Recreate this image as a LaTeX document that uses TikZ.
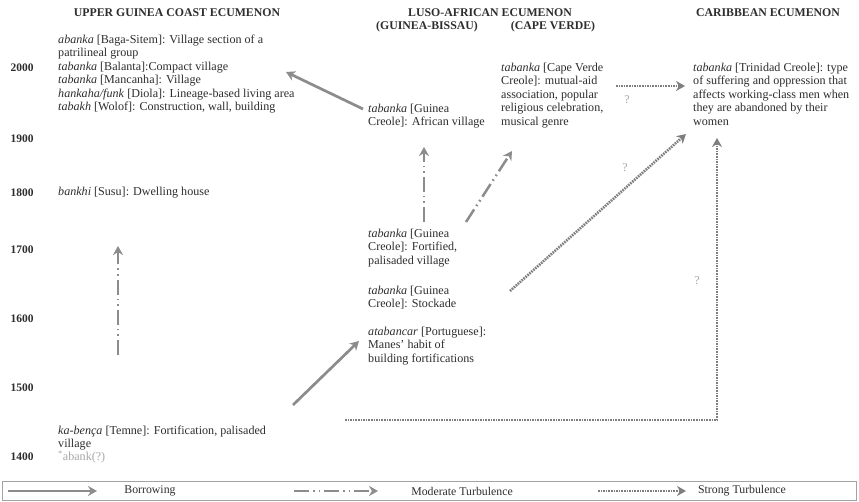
\documentclass[tikz,border=0pt]{standalone}
\usepackage{fontspec}
\setmainfont{Liberation Serif}
\usetikzlibrary{arrows.meta}
\definecolor{txtcol}{HTML}{2E2E2E}
\definecolor{arrcol}{HTML}{8C8C8C}
\definecolor{dotcol}{HTML}{7E7E7E}
\definecolor{qcol}{HTML}{A8A8A8}
\tikzset{
  txt/.style={font=\fontsize{12.1}{13.5}\selectfont, text=txtcol, align=left, inner sep=0pt, anchor=north west},
  hdr/.style={font=\fontsize{11.8}{13.5}\selectfont\bfseries, text=txtcol, inner sep=0pt},
  yr/.style={font=\fontsize{11.5}{13.5}\selectfont\bfseries, text=txtcol, inner sep=0pt},
  qm/.style={font=\fontsize{12}{13.5}\selectfont, text=qcol, inner sep=0pt},
  lg/.style={font=\fontsize{11.8}{13.5}\selectfont, text=txtcol, inner sep=0pt},
  tip/.style={-{Stealth[length=9pt,width=10pt]}},
  borrow/.style={draw=arrcol, line width=2.7pt, tip},
  moderate/.style={draw=arrcol, line width=2.5pt, dash pattern=on 15pt off 4pt on 1.6pt off 4pt on 1.6pt off 4pt, tip},
  strong/.style={draw=dotcol, line width=2.6pt, dash pattern=on 1.6pt off 1.0pt, tip},
}
\begin{document}
\begin{tikzpicture}[x=1pt,y=-1pt]
\useasboundingbox (0,0) rectangle (859,502);
\fill[white] (0,0) rectangle (859,502);

% headers
\node[hdr] (h1) at (177,13) {UPPER GUINEA COAST ECUMENON};
\node[hdr] (h2) at (490,13) {LUSO-AFRICAN ECUMENON};
\node[hdr] (h2a) at (427,27) {(GUINEA-BISSAU)};
\node[hdr] (h2b) at (553,27) {(CAPE VERDE)};
\node[hdr] (h3) at (768,13) {CARIBBEAN ECUMENON};

% years
\node[yr] (y2000) at (22,68) {2000};
\node[yr] (y1900) at (22,139) {1900};
\node[yr] (y1800) at (22,193) {1800};
\node[yr] (y1700) at (22,250) {1700};
\node[yr] (y1600) at (22,319) {1600};
\node[yr] (y1500) at (22,388) {1500};
\node[yr] (y1400) at (22,457) {1400};

% upper guinea coast
\node[txt] (ugc) at (58,34.5) {\textit{abanka} [Baga-Sitem]: Village section of a\\patrilineal group\\\textit{tabanka} [Balanta]:Compact village\\\textit{tabanka} [Mancanha]: Village\\\textit{hankaha/funk} [Diola]: Lineage-based living area\\\textit{tabakh} [Wolof]: Construction, wall, building};
\node[txt] (susu) at (58,186.5) {\textit{bankhi} [Susu]: Dwelling house};
\node[txt] (temne) at (58,425.5) {\textit{ka-bença} [Temne]: Fortification, palisaded\\village};
\node[txt, text=qcol] (abank) at (58,450.5) {\textsuperscript{*}abank(?)};

% guinea-bissau
\node[txt] (gb1) at (368,103.5) {\textit{tabanka} [Guinea\\Creole]: African village};
\node[txt] (gb2) at (368,228.5) {\textit{tabanka} [Guinea\\Creole]: Fortified,\\palisaded village};
\node[txt] (gb3) at (368,285.5) {\textit{tabanka} [Guinea\\Creole]: Stockade};
\node[txt] (gb4) at (368,326.5) {\textit{atabancar} [Portuguese]:\\Manes’ habit of\\building fortifications};

% cape verde
\node[txt] (cv) at (501,62.5) {\textit{tabanka} [Cape Verde\\Creole]: mutual-aid\\association, popular\\religious celebration,\\musical genre};

% caribbean
\node[txt] (tt) at (693,62.5) {\textit{tabanka} [Trinidad Creole]: type\\of suffering and oppression that\\affects working-class men when\\they are abandoned by their\\women};

% question marks
\node[qm] (q1) at (627,100) {?};
\node[qm] (q2) at (625,168) {?};
\node[qm] (q3) at (697,281) {?};

% arrow end points
\coordinate (b1s) at (363,109);
\coordinate (b1e) at (286,72);
\coordinate (b2s) at (293,405);
\coordinate (b2e) at (359,341);
\coordinate (m1s) at (118,355);
\coordinate (m1e) at (118,246);
\coordinate (m2s) at (424,222);
\coordinate (m2e) at (424,147);
\coordinate (m3s) at (466,222);
\coordinate (m3e) at (512,151);
\coordinate (s1s) at (616,86);
\coordinate (s1e) at (685,86);
\coordinate (s2s) at (510,291);
\coordinate (s2e) at (686,134);
\coordinate (s3s) at (345,420);
\coordinate (s3c) at (717,420);
\coordinate (s3e) at (717,138);

\draw[borrow] (b1s) -- (b1e);
\draw[borrow] (b2s) -- (b2e);
\draw[moderate] (m1s) -- (m1e);
\draw[moderate] (m2s) -- (m2e);
\draw[moderate] (m3s) -- (m3e);
\draw[strong] (s1s) -- (s1e);
\draw[strong] (s2s) -- (s2e);
\draw[strong] (s3s) -- (s3c) -- (s3e);

% legend
\node[draw=arrcol!80, line width=1.5pt, minimum width=854pt, minimum height=19pt, inner sep=0pt] (legend) at (429.5,491) {};
\coordinate (l1s) at (8,491);
\coordinate (l1e) at (97,491);
\coordinate (l2s) at (294,491);
\coordinate (l2e) at (378,491);
\coordinate (l3s) at (598,491);
\coordinate (l3e) at (686,491);
\draw[borrow] (l1s) -- (l1e);
\draw[moderate] (l2s) -- (l2e);
\draw[strong] (l3s) -- (l3e);
\node[lg] (lt1) at (150,491) {Borrowing};
\node[lg] (lt2) at (462,491) {Moderate Turbulence};
\node[lg] (lt3) at (742,491) {Strong Turbulence};
\end{tikzpicture}
\end{document}
